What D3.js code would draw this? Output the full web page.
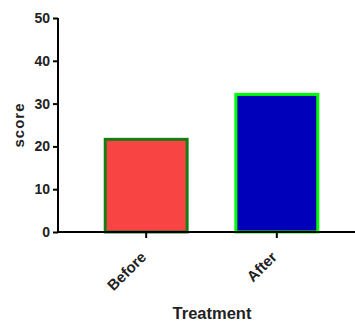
<!DOCTYPE html>
<html>
<head>
<meta charset="utf-8">
<script src="https://cdn.jsdelivr.net/npm/d3@7"></script>
<style>
  body { margin: 0; background: #fff; }
  text { font-family: "Liberation Sans", Arial, sans-serif; font-weight: bold; fill: #222; }
</style>
</head>
<body>
<div id="chart"></div>
<script>
// data
const treatments = ["Before", "After"];
const scores = [22, 32.5];
const fills = ["#f94444", "#0000bb"];
const strokes = ["#147d14", "#00ff00"];
const yTicks = [0, 10, 20, 30, 40, 50];

const width = 355, height = 322;
const margin = { top: 18, left: 58, bottom: 90 };
const y0 = height - margin.bottom; // baseline

const svg = d3.select("#chart").append("svg")
  .attr("width", width)
  .attr("height", height);

const x = d3.scaleBand()
  .domain(treatments)
  .range([margin.left, 365])
  .paddingInner(0.35)
  .paddingOuter(0.35);

const y = d3.scaleLinear()
  .domain([0, 50])
  .range([y0, margin.top]);

// bars
svg.selectAll("rect.bar")
  .data(treatments)
  .enter()
  .append("rect")
  .attr("class", "bar")
  .attr("x", d => x(d) + 1.5)
  .attr("y", (d, i) => y(scores[i]) + 1.5)
  .attr("width", x.bandwidth() - 3)
  .attr("height", (d, i) => y0 - y(scores[i]) - 1.5)
  .attr("fill", (d, i) => fills[i])
  .attr("stroke", (d, i) => strokes[i])
  .attr("stroke-width", 3);

// y axis
const yAxis = svg.append("g")
  .attr("transform", `translate(${margin.left},0)`)
  .call(d3.axisLeft(y).tickValues(yTicks).tickSize(5).tickPadding(3).tickSizeOuter(0));
yAxis.select(".domain").attr("stroke", "#000").attr("stroke-width", 2)
  .attr("d", `M0,${y0 + 1}V${margin.top}`);
yAxis.selectAll(".tick line").attr("stroke", "#000").attr("stroke-width", 2);
yAxis.selectAll(".tick text")
  .attr("font-size", 14)
  .attr("font-family", "Liberation Sans, Arial, sans-serif")
  .attr("font-weight", "bold")
  .attr("fill", "#222");

// x axis
const xAxis = svg.append("g")
  .attr("transform", `translate(0,${y0})`)
  .call(d3.axisBottom(x).tickSize(6).tickSizeOuter(0));
xAxis.select(".domain").attr("stroke", "#000").attr("stroke-width", 2)
  .attr("d", `M${margin.left - 1},0H${width}`);
xAxis.selectAll(".tick line").attr("stroke", "#000").attr("stroke-width", 2);
xAxis.selectAll(".tick text")
  .attr("font-size", 15)
  .attr("font-family", "Liberation Sans, Arial, sans-serif")
  .attr("font-weight", "bold")
  .attr("fill", "#222")
  .attr("text-anchor", "end")
  .attr("dy", 0)
  .attr("y", 0)
  .attr("transform", "translate(1,26) rotate(-45)");

// axis titles
svg.append("text")
  .text("score")
  .attr("transform", `translate(24,${(y0 + margin.top) / 2}) rotate(-90)`)
  .attr("text-anchor", "middle")
  .attr("font-size", 15)
  .attr("letter-spacing", 1);

svg.append("text")
  .text("Treatment")
  .attr("x", 212)
  .attr("y", 319)
  .attr("text-anchor", "middle")
  .attr("font-size", 16.5);
</script>
</body>
</html>
